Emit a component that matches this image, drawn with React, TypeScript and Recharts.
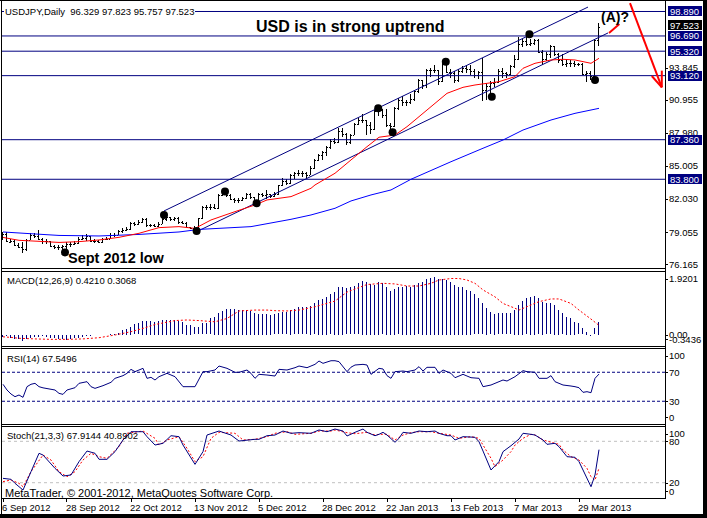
import {
  ComposedChart, Bar, Line, Scatter, XAxis, YAxis, ReferenceLine,
} from "recharts";

const FONT = '"Liberation Sans", Arial, Helvetica, sans-serif';
const NAVY = "#000080";
const RED = "#ff0000";
const W = 707;
const X_DOMAIN: [number, number] = [-0.25, 165.5];

type Pt = [number, number];

// one date label every 16 daily bars
const dateIdx = [0, 16, 32, 48, 64, 80, 96, 112, 128, 144];
const dateLabels = [
  "6 Sep 2012", "28 Sep 2012", "22 Oct 2012", "13 Nov 2012", "5 Dec 2012",
  "28 Dec 2012", "22 Jan 2013", "13 Feb 2013", "7 Mar 2013", "29 Mar 2013",
];

// USDJPY daily bars, 6 Sep 2012 .. 5 Apr 2013
const opens = [
  78.42, 78.89, 78.20, 78.26, 77.91, 77.75, 77.50, 78.38, 78.80, 78.73,
  78.39, 78.28, 78.22, 77.80, 77.70, 77.70, 77.80, 77.95, 78.02, 78.04,
  78.45, 78.48, 78.68, 78.27, 78.22, 78.18, 78.40, 78.42, 78.80, 78.82,
  79.15, 79.25, 79.30, 79.90, 79.80, 79.95, 80.20, 79.65, 79.72, 79.60,
  79.80, 80.25, 80.40, 80.22, 80.28, 79.95, 79.90, 79.50, 79.45, 79.40,
  80.30, 81.30, 81.28, 81.30, 81.20, 82.35, 82.45, 82.40, 82.00, 81.95,
  81.90, 82.10, 82.45, 82.20, 81.85, 82.45, 82.35, 82.45, 82.30, 82.50,
  83.25, 83.60, 83.45, 84.20, 84.35, 84.40, 84.35, 84.20, 84.80, 85.50,
  85.95, 86.25, 86.70, 87.25, 87.15, 88.15, 87.85, 87.15, 87.80, 88.80,
  89.15, 89.10, 88.65, 88.30, 89.95, 90.05, 89.55, 88.70, 88.60, 90.20,
  90.90, 90.75, 90.75, 91.05, 91.70, 92.70, 92.30, 93.60, 93.60, 93.60,
  92.65, 94.30, 93.45, 93.40, 92.75, 93.50, 93.80, 93.75, 93.55, 93.20,
  93.45, 91.85, 92.20, 92.50, 92.55, 93.55, 93.35, 93.25, 94.00, 94.65,
  96.00, 96.20, 96.00, 96.10, 96.30, 95.25, 94.60, 95.05, 95.75, 95.10,
  94.50, 94.20, 94.30, 94.25, 94.20, 94.20, 93.25, 93.40, 93.10, 96.329,
];
const highs = [
  79.02, 79.08, 78.42, 78.32, 78.10, 78.13, 78.45, 78.95, 78.98, 79.22,
  78.55, 78.42, 78.25, 77.88, 77.88, 77.93, 78.15, 78.20, 78.25, 78.58,
  78.75, 78.92, 78.72, 78.40, 78.32, 78.55, 78.60, 78.95, 78.95, 79.28,
  79.40, 79.48, 79.95, 80.00, 80.12, 80.35, 80.30, 79.80, 79.82, 79.95,
  80.35, 80.67, 80.45, 80.45, 80.40, 80.05, 79.95, 79.55, 79.60, 80.35,
  81.40, 81.48, 81.60, 81.55, 82.50, 82.84, 82.55, 82.45, 82.15, 82.10,
  82.25, 82.60, 82.55, 82.25, 82.55, 82.60, 82.85, 82.50, 82.65, 83.30,
  83.95, 83.85, 84.30, 84.45, 84.60, 84.55, 84.45, 84.95, 85.60, 86.05,
  86.35, 86.75, 87.40, 87.50, 88.40, 88.45, 87.95, 87.90, 88.90, 89.35,
  89.65, 89.15, 88.95, 90.05, 90.25, 90.10, 90.15, 88.85, 90.30, 91.10,
  91.25, 90.90, 91.50, 91.75, 92.80, 92.75, 93.70, 93.85, 94.10, 93.65,
  94.46, 94.40, 93.75, 93.55, 93.75, 94.00, 94.10, 94.10, 93.70, 93.55,
  94.75, 92.45, 92.65, 92.95, 93.70, 93.80, 93.45, 94.10, 95.00, 96.60,
  96.45, 96.70, 96.45, 96.45, 96.40, 95.40, 95.25, 95.90, 95.80, 95.15,
  95.05, 94.60, 94.50, 94.45, 94.30, 94.25, 93.55, 93.50, 96.40, 97.823,
];
const lows = [
  78.35, 78.12, 78.08, 77.80, 77.63, 77.13, 77.32, 78.30, 78.50, 78.35,
  77.98, 77.98, 77.72, 77.50, 77.41, 77.35, 77.57, 77.70, 77.85, 78.00,
  78.30, 78.28, 78.18, 78.10, 78.05, 78.05, 78.30, 78.40, 78.62, 78.78,
  79.00, 79.15, 79.28, 79.62, 79.70, 79.85, 79.55, 79.50, 79.50, 79.55,
  79.75, 80.05, 80.05, 80.05, 79.75, 79.75, 79.45, 79.32, 79.07, 79.35,
  80.25, 81.00, 81.05, 81.15, 81.15, 82.30, 82.20, 81.90, 81.65, 81.70,
  81.85, 82.00, 82.05, 81.70, 81.75, 82.25, 82.05, 82.15, 82.25, 82.40,
  83.20, 83.30, 83.40, 83.85, 84.05, 84.00, 83.80, 84.15, 84.75, 85.40,
  85.55, 85.90, 86.55, 86.95, 87.05, 87.60, 86.85, 87.00, 87.75, 88.70,
  88.85, 87.80, 87.90, 88.20, 89.45, 89.30, 88.50, 88.06, 88.50, 90.00,
  90.40, 90.35, 90.60, 90.80, 91.60, 91.90, 92.05, 93.00, 93.40, 92.25,
  92.55, 93.35, 92.95, 92.50, 92.55, 93.40, 93.35, 93.20, 92.90, 92.85,
  90.85, 90.90, 91.50, 92.10, 92.50, 92.90, 92.95, 93.15, 93.85, 94.55,
  95.70, 95.75, 95.80, 95.85, 95.15, 94.10, 94.40, 94.70, 94.90, 94.25,
  93.95, 93.90, 93.90, 93.90, 94.00, 93.20, 92.57, 92.75, 92.70, 95.757,
];
const closes = [
  78.89, 78.21, 78.26, 77.91, 77.75, 77.50, 78.38, 78.80, 78.73, 78.39,
  78.28, 78.22, 77.80, 77.70, 77.70, 77.80, 77.95, 78.02, 78.04, 78.45,
  78.48, 78.68, 78.27, 78.22, 78.18, 78.40, 78.42, 78.80, 78.82, 79.15,
  79.25, 79.30, 79.90, 79.80, 79.95, 80.20, 79.65, 79.72, 79.60, 79.80,
  80.25, 80.40, 80.22, 80.28, 79.95, 79.90, 79.50, 79.45, 79.40, 80.30,
  81.30, 81.28, 81.30, 81.20, 82.35, 82.45, 82.40, 82.00, 81.95, 81.90,
  82.10, 82.45, 82.20, 81.85, 82.45, 82.35, 82.45, 82.30, 82.50, 83.25,
  83.60, 83.45, 84.20, 84.35, 84.40, 84.35, 84.20, 84.80, 85.50, 85.95,
  86.25, 86.70, 87.25, 87.15, 88.15, 87.85, 87.15, 87.80, 88.80, 89.15,
  89.10, 88.65, 88.30, 89.95, 90.05, 89.55, 88.70, 88.60, 90.20, 90.90,
  90.75, 90.75, 91.05, 91.70, 92.70, 92.30, 93.60, 93.60, 93.60, 92.65,
  94.30, 93.45, 93.40, 92.75, 93.50, 93.80, 93.75, 93.55, 93.20, 93.45,
  91.85, 92.20, 92.50, 92.55, 93.55, 93.35, 93.25, 94.00, 94.65, 96.00,
  96.20, 96.00, 96.10, 96.30, 95.25, 94.60, 95.05, 95.75, 95.10, 94.50,
  94.20, 94.30, 94.25, 94.20, 94.20, 93.25, 93.40, 93.10, 96.33, 97.523,
];

// moving averages (bar index, price)
const redMa: Pt[] = [
  [0, 78.57], [4, 78.31], [9, 78.22], [14, 78.12], [19, 78.19], [24, 78.34], [29, 78.58],
  [34, 78.94], [39, 79.45], [44, 79.54], [48, 79.38], [52, 80.14], [58, 80.89], [63, 81.49],
  [66, 81.94], [72, 82.24], [77, 82.99], [78, 83.29], [83, 84.34], [87, 85.54], [91, 86.73],
  [94, 87.58], [98, 87.78], [101, 88.53], [104, 89.43], [108, 90.63], [111, 91.53], [115, 92.07],
  [118, 92.28], [121, 92.43], [124, 92.58], [128, 93.03], [130, 93.78], [133, 94.23], [137, 94.53],
  [140, 94.59], [143, 94.53], [145, 94.38], [147, 94.23], [149, 94.68],
];
const blueMa: Pt[] = [
  [0, 79.06], [8, 78.88], [14, 78.75], [24, 78.7], [34, 78.84], [44, 79.06], [49, 79.29],
  [62, 79.54], [72, 80.2], [77, 80.59], [83, 81.19], [87, 81.85], [92, 82.39], [97, 82.84],
  [102, 83.8], [112, 85.38], [120, 86.59], [125, 87.33], [130, 88.23], [137, 89.13],
  [143, 89.73], [149, 90.18],
];

// hand-drawn trend channel, pivots and arrow
const upperChannel: Pt[] = [[40.25, 80.95], [146.25, 99.29]];
const lowerChannel: Pt[] = [[48.25, 79.06], [151.25, 96.96]];
const pivots: Pt[] = [
  [15.5, 77.22], [40.25, 80.59], [48.4, 79.15], [55.5, 82.69], [63.4, 81.64], [93.8, 90.19],
  [97.4, 88.03], [110.7, 94.38], [122.2, 91.23], [131.6, 96.84], [148, 92.73],
];
const arrowUp: Pt[] = [[151.5, 96.96], [154.1, 97.77]];
const arrowDown: Pt[] = [[156.75, 99.65], [164.7, 92.07]];
const arrowHeadA: Pt[] = [[162.2, 93.09], [164.7, 92.07]];
const arrowHeadB: Pt[] = [[164.7, 93.57], [164.7, 92.07]];

const levels = [98.89, 96.69, 95.32, 93.12, 87.36, 83.8];
const lastPrice = 97.523;
const priceTicks = [76.165, 79.055, 82.03, 85.005, 87.98, 90.955, 93.845];

// MACD(12,26,9) main as histogram
const macdHist = [
  -0.07, -0.04, -0.09, -0.12, -0.14, -0.21, -0.14, -0.10, -0.07, -0.07,
  -0.04, -0.07, -0.10, -0.10, -0.12, -0.14, -0.18, -0.12, -0.10, -0.09,
  -0.07, -0.03, -0.02, -0.01, -0.01, 0.00, 0.01, 0.02, 0.04, 0.07,
  0.16, 0.19, 0.27, 0.34, 0.38, 0.45, 0.45, 0.45, 0.43, 0.45,
  0.49, 0.49, 0.49, 0.49, 0.47, 0.41, 0.32, 0.32, 0.24, 0.24,
  0.38, 0.38, 0.54, 0.60, 0.73, 0.80, 0.85, 0.85, 0.85, 0.82,
  0.82, 0.82, 0.80, 0.73, 0.69, 0.69, 0.69, 0.65, 0.68, 0.71,
  0.74, 0.74, 0.82, 0.84, 0.91, 0.91, 0.91, 0.97, 1.04, 1.15,
  1.19, 1.26, 1.34, 1.43, 1.60, 1.60, 1.54, 1.58, 1.61, 1.71,
  1.79, 1.76, 1.69, 1.66, 1.75, 1.71, 1.60, 1.45, 1.52, 1.58,
  1.60, 1.63, 1.60, 1.66, 1.71, 1.77, 1.85, 1.90, 1.92, 1.87,
  1.87, 1.83, 1.75, 1.67, 1.60, 1.60, 1.49, 1.45, 1.34, 1.21,
  1.04, 0.90, 0.74, 0.69, 0.71, 0.71, 0.71, 0.71, 0.82, 0.99,
  1.12, 1.21, 1.26, 1.29, 1.21, 1.10, 1.04, 1.04, 0.99, 0.82,
  0.71, 0.60, 0.55, 0.43, 0.38, 0.21, 0.10, -0.02, 0.21, 0.42,
];
const macdSignal: Pt[] = [
  [0, -0.07], [2, -0.09], [4, -0.12], [8, -0.14], [12, -0.155], [16, -0.155], [20, -0.14],
  [24, -0.1], [28, -0.01], [32, 0.1], [35, 0.21], [38, 0.34], [43, 0.47], [46, 0.49],
  [49, 0.47], [53, 0.43], [56, 0.54], [59, 0.79], [63, 0.82], [66, 0.82], [68, 0.8],
  [71, 0.79], [74, 0.82], [78, 0.93], [83, 1.12], [86, 1.42], [89, 1.57], [91, 1.67],
  [95, 1.71], [98, 1.69], [101, 1.62], [104, 1.62], [107, 1.71], [109, 1.82], [112, 1.87],
  [114, 1.87], [116, 1.82], [118, 1.71], [120, 1.49], [123, 1.26], [125, 1.04], [128, 0.88],
  [129, 0.82], [132, 0.99], [134, 1.1], [137, 1.19], [139, 1.19], [142, 1.04], [144, 0.82],
  [147, 0.52], [149, 0.31],
];

const rsi: Pt[] = [
  [0, 53.4], [1, 45.5], [2, 40], [3, 36.3], [4, 38.6], [5, 35.4], [6, 50.1], [7, 53.4],
  [8, 54.7], [9, 50.1], [10, 48.5], [13, 45.5], [14, 40.9], [15, 39.5], [16, 45.5], [18, 48.7],
  [19, 54.7], [21, 57], [22, 50.1], [23, 47.8], [25, 51.5], [27, 56.1], [28, 61.6], [30, 65.3],
  [31, 68.5], [32, 74], [33, 70.8], [35, 75.4], [36, 61.6], [37, 63], [38, 59.3], [39, 63.9],
  [41, 68.5], [42, 66.2], [43, 63.9], [45, 50.1], [48, 50.1], [50, 70.8], [51, 70.8], [53, 73.1],
  [54, 78.6], [56, 75.4], [58, 69.9], [59, 69.9], [61, 73.1], [62, 68.5], [63, 61.6], [64, 67.1],
  [66, 66.2], [68, 64.8], [69, 74], [71, 73.1], [73, 76.3], [74, 78.6], [76, 76.3], [78, 80.9],
  [79, 85.5], [80, 82.3], [82, 85.9], [83, 85.9], [84, 84.6], [86, 70.8], [87, 77], [88, 80],
  [90, 80.9], [91, 80], [92, 67.1], [94, 75.4], [95, 74.5], [96, 65.3], [97, 61.6], [98, 70.8],
  [100, 71.7], [101, 70.8], [103, 73.1], [104, 77.7], [105, 71.7], [106, 76.8], [108, 76.8],
  [109, 68.5], [110, 73.1], [112, 68.5], [113, 62.5], [115, 67.1], [117, 62.5], [119, 61.6],
  [120, 50.1], [122, 52.4], [123, 54.7], [125, 59.3], [126, 57.9], [128, 63.9], [130, 72.2],
  [131, 70.8], [133, 69.9], [134, 61.6], [136, 61.6], [137, 65.3], [138, 57], [140, 52.4],
  [142, 51], [143, 50.1], [144, 48.7], [145, 42.3], [146, 43.2], [147, 41.8], [148, 61.6],
  [149, 67.5],
];

const stochMain: Pt[] = [
  [0, 26.3], [2, 24.9], [3, 19.1], [5, 9.4], [7, 36], [9, 62.6], [10, 60.1], [13, 40.8],
  [15, 29.7], [17, 31.2], [19, 50.5], [21, 65.9], [23, 62.6], [24, 53.9], [26, 53.9], [28, 65],
  [30, 81.9], [32, 93.9], [35, 93.9], [36, 86.7], [38, 74.6], [40, 77.1], [42, 88.1], [44, 86.7],
  [45, 74.6], [48, 46.6], [50, 65], [51, 89.1], [54, 94.9], [57, 89.1], [59, 80.4], [63, 82.9],
  [64, 82.9], [66, 88.1], [68, 89.1], [70, 94.9], [72, 91.6], [74, 92.5], [77, 91.6], [79, 96.4],
  [81, 93.9], [83, 97.8], [85, 94.9], [86, 87.7], [88, 93], [90, 97.8], [91, 93], [93, 88.1],
  [94, 90.1], [95, 93], [96, 89.1], [98, 78.6], [99, 84.3], [100, 93], [102, 91.6], [104, 94.9],
  [106, 93.9], [108, 94.9], [109, 91.6], [111, 88.1], [112, 88.1], [113, 81.9], [115, 86.7],
  [118, 85.8], [119, 79.4], [120, 65.9], [122, 38.4], [124, 50.5], [125, 65], [127, 73.6],
  [129, 83.3], [130, 91.6], [132, 90.1], [133, 89.1], [135, 81.9], [136, 75.6], [138, 77.1],
  [139, 72.2], [141, 57.7], [143, 56.8], [144, 50.5], [147, 14.2], [148, 31.2], [149, 67.9],
];
const stochSignal: Pt[] = [
  [0, 21.5], [2, 23.9], [4, 19.1], [5, 14.2], [7, 36], [10, 60.1], [12, 52.9], [14, 36],
  [16, 28.7], [18, 36], [20, 52.9], [22, 62.6], [24, 57.7], [26, 55.4], [29, 72.2], [31, 91.6],
  [35, 94.9], [38, 84.3], [39, 74.6], [41, 81.9], [44, 86.7], [46, 69.9], [48, 50.5], [50, 57.7],
  [52, 84.3], [54, 93], [58, 91.6], [60, 81.9], [63, 82.9], [66, 86.7], [68, 91.6], [71, 93.9],
  [73, 90.1], [77, 91.6], [79, 94.9], [82, 94.9], [83, 96.4], [86, 92.5], [88, 91], [91, 93],
  [93, 89.1], [94, 90.1], [96, 90.1], [98, 81.9], [100, 89.1], [102, 92.5], [104, 93.9],
  [107, 93.9], [109, 91.6], [112, 89.1], [114, 84.3], [117, 86.7], [119, 84.3], [120, 74.6],
  [122, 55.4], [123, 43.2], [125, 52.9], [127, 65], [128, 74.6], [130, 84.3], [132, 90.1],
  [133, 89.1], [135, 81.9], [138, 77.1], [139, 75.6], [140, 67.4], [142, 57.7], [144, 52.9],
  [146, 40.8], [147, 28.7], [148, 23.9], [149, 40.9],
];

const pts = (a: Pt[]) => a.map(([i, v]) => ({ i, v }));

const bars = closes.map((c, i) => ({
  i,
  o: opens[i],
  h: highs[i],
  l: lows[i],
  c,
  range: [lows[i], highs[i]],
  macd: macdHist[i],
}));

function OhlcBar(props: any) {
  const { x, y, width, height, payload } = props;
  const cx = Math.round(x + width / 2 - 0.5);
  const span = payload.h - payload.l || 1;
  const yo = Math.round(y + ((payload.h - payload.o) / span) * height);
  const yc = Math.round(y + ((payload.h - payload.c) / span) * height);
  const top = Math.round(y);
  const bot = Math.round(y + height);
  return (
    <g shapeRendering="crispEdges" fill="#000">
      <rect x={cx} y={top} width={1} height={Math.max(1, bot - top)} />
      <rect x={cx - 1} y={yo} width={1} height={1} />
      <rect x={cx + 1} y={yc} width={1} height={1} />
    </g>
  );
}

function HistBar(props: any) {
  const { x, y, width, height } = props;
  if (!height || Math.abs(height) < 0.5) return <g />;
  const cx = Math.round(x + width / 2 - 0.5);
  const top = Math.round(Math.min(y, y + height));
  const h = Math.max(1, Math.round(Math.abs(height)));
  return <rect x={cx} y={top} width={1} height={h} fill={NAVY} shapeRendering="crispEdges" />;
}

function PriceTick(props: any) {
  const { y, payload } = props;
  const v: number = payload.value;
  const label = v.toFixed(3);
  if (v === lastPrice || levels.includes(v)) {
    const cy = v === lastPrice ? y - 1.5 : y;
    return (
      <g>
        <rect x={668} y={Math.round(cy - 5)} width={34} height={10} fill={v === lastPrice ? "#000" : NAVY} />
        <text x={670} y={cy + 3.5} fontSize={9.5} fontFamily={FONT} fill="#fff">{label}</text>
      </g>
    );
  }
  return (
    <g>
      <rect x={665} y={Math.round(y)} width={3} height={1} fill="#000" />
      <text x={669} y={y + 3.5} fontSize={9.5} fontFamily={FONT} fill="#000">{label}</text>
    </g>
  );
}

function sideTick(top: number, bottom: number, fmt: (v: number) => string) {
  return (props: any) => {
    const { y, payload } = props;
    const cy = Math.min(Math.max(y, top + 7.5), bottom - 7);
    return (
      <g>
        <rect x={665} y={Math.round(cy)} width={3} height={1} fill="#000" />
        <text x={669} y={cy + 3.5} fontSize={9.5} fontFamily={FONT} fill="#000">{fmt(payload.value)}</text>
      </g>
    );
  };
}

function DateTick(props: any) {
  const { x, payload } = props;
  const k = dateIdx.indexOf(payload.value);
  return (
    <g>
      <rect x={Math.round(x - 0.5)} y={74} width={1} height={3} fill="#000" />
      <text x={x - 1} y={85.5} fontSize={9.5} fontFamily={FONT} fill="#000">{dateLabels[k]}</text>
    </g>
  );
}

const line = (data: Pt[], color: string, width = 1, dash?: string) => (
  <Line
    data={pts(data)}
    dataKey="v"
    type="linear"
    stroke={color}
    strokeWidth={width}
    strokeDasharray={dash}
    dot={false}
    activeDot={false}
    isAnimationActive={false}
  />
);

const rightMargin = { top: 1, right: 0, bottom: 1, left: 2 };

function PricePanel() {
  return (
    <ComposedChart width={W} height={270} data={bars} margin={{ top: 2, right: 0, bottom: 2, left: 2 }}>
      <XAxis type="number" dataKey="i" domain={X_DOMAIN} allowDataOverflow hide />
      <YAxis
        orientation="right"
        width={42}
        domain={[75.82, 99.744]}
        allowDataOverflow
        ticks={[...priceTicks, ...levels, lastPrice]}
        interval={0}
        tick={PriceTick}
        tickLine={false}
        axisLine={false}
      />
      {levels.map((v) => (
        <ReferenceLine key={v} y={v} stroke={NAVY} strokeWidth={1} />
      ))}
      {line(upperChannel, NAVY)}
      {line(lowerChannel, NAVY)}
      {line(blueMa, "#0000ff")}
      {line(redMa, RED)}
      <Bar dataKey="range" barSize={3} shape={OhlcBar} isAnimationActive={false} />
      <Scatter
        data={pts(pivots)}
        dataKey="v"
        fill="#000"
        isAnimationActive={false}
        shape={(p: any) => <circle cx={p.cx} cy={p.cy} r={4} fill="#000" />}
      />
      {line(arrowUp, RED, 2)}
      {line(arrowDown, RED, 2)}
      {line(arrowHeadA, RED, 2)}
      {line(arrowHeadB, RED, 2)}
    </ComposedChart>
  );
}

function MacdPanel() {
  const fmt = (v: number) => (v === 0 ? "0.00" : v.toFixed(4));
  return (
    <ComposedChart width={W} height={77} data={bars} margin={rightMargin}>
      <XAxis type="number" dataKey="i" domain={X_DOMAIN} allowDataOverflow hide />
      <YAxis
        orientation="right"
        width={42}
        domain={[-0.376, 2.12]}
        allowDataOverflow
        ticks={[1.9201, 0, -0.3436]}
        interval={0}
        tick={sideTick(1, 76, fmt)}
        tickLine={false}
        axisLine={false}
      />
      <Bar dataKey="macd" barSize={1} shape={HistBar} isAnimationActive={false} />
      {line(macdSignal, RED, 1, "2 2")}
    </ComposedChart>
  );
}

function RsiPanel() {
  return (
    <ComposedChart width={W} height={78} data={bars} margin={rightMargin}>
      <XAxis type="number" dataKey="i" domain={X_DOMAIN} allowDataOverflow hide />
      <YAxis
        orientation="right"
        width={42}
        domain={[-1.38, 103.45]}
        allowDataOverflow
        ticks={[100, 70, 30, 0]}
        interval={0}
        tick={sideTick(1, 77, (v) => String(v))}
        tickLine={false}
        axisLine={false}
      />
      <ReferenceLine y={70} stroke={NAVY} strokeDasharray="3 2" />
      <ReferenceLine y={30} stroke={NAVY} strokeDasharray="3 2" />
      {line(rsi, NAVY)}
    </ComposedChart>
  );
}

function StochPanel() {
  return (
    <ComposedChart width={W} height={89} data={bars} margin={{ top: 1, right: 0, bottom: 0, left: 2 }}>
      <XAxis
        type="number"
        dataKey="i"
        domain={X_DOMAIN}
        allowDataOverflow
        ticks={dateIdx}
        interval={0}
        height={16}
        tick={DateTick}
        tickLine={false}
        axisLine={false}
      />
      <YAxis
        orientation="right"
        width={42}
        domain={[-2.17, 102.17]}
        allowDataOverflow
        ticks={[100, 80, 20, 0]}
        interval={0}
        tick={sideTick(1, 73, (v) => String(v))}
        tickLine={false}
        axisLine={false}
      />
      <ReferenceLine y={80} stroke="#c0c0c0" strokeDasharray="3 3" />
      <ReferenceLine y={20} stroke="#c0c0c0" strokeDasharray="3 3" />
      {line(stochSignal, RED, 1, "2 2")}
      {line(stochMain, NAVY)}
    </ComposedChart>
  );
}

function Overlay() {
  const rows = [268, 271, 346, 348, 424, 426, 498];
  const small = { fontSize: 9.5, fontFamily: FONT, fill: "#000", style: { whiteSpace: "pre" as const } };
  return (
    <svg width={W} height={518} style={{ position: "absolute", left: 0, top: 0, pointerEvents: "none" }}>
      <g shapeRendering="crispEdges" fill="#000">
        <rect x={0} y={0} width={703} height={1} />
        <rect x={1} y={0} width={1} height={514} />
        <rect x={665} y={0} width={1} height={499} />
        {rows.map((r) => (
          <rect key={r} x={1} y={r} width={665} height={1} />
        ))}
        <rect x={703} y={0} width={4} height={518} />
        <rect x={0} y={514} width={707} height={4} />
        <rect x={4} y={7} width={191} height={10} fill="#fff" />
      </g>
      <text x={5} y={14.5} {...small}>USDJPY,Daily  96.329 97.823 95.757 97.523</text>
      <text x={256} y={32} fontSize={16} fontWeight="bold" fontFamily={FONT} fill="#000">
        USD is in strong uptrend
      </text>
      <text x={68} y={263} fontSize={14.5} fontWeight="bold" fontFamily={FONT} fill="#000">
        Sept 2012 low
      </text>
      <text x={601} y={22} fontSize={14} fontWeight="bold" fontFamily={FONT} fill="#000">
        (A)?
      </text>
      <text x={7} y={284} {...small}>MACD(12,26,9) 0.4210 0.3068</text>
      <text x={7} y={361.5} {...small}>RSI(14) 67.5496</text>
      <text x={7} y={439} {...small}>Stoch(21,3,3) 67.9144 40.8902</text>
      <text x={5} y={496.5} fontSize={11} fontFamily={FONT} fill="#000">
        MetaTrader, © 2001-2012, MetaQuotes Software Corp.
      </text>
    </svg>
  );
}

export default function App() {
  return (
    <div style={{ position: "absolute", left: 0, top: 0, width: W, height: 518, background: "#fff", overflow: "hidden" }}>
      <div style={{ position: "absolute", left: 0, top: 0 }}>
        <PricePanel />
      </div>
      <div style={{ position: "absolute", left: 0, top: 270 }}>
        <MacdPanel />
      </div>
      <div style={{ position: "absolute", left: 0, top: 347 }}>
        <RsiPanel />
      </div>
      <div style={{ position: "absolute", left: 0, top: 425 }}>
        <StochPanel />
      </div>
      <Overlay />
    </div>
  );
}
